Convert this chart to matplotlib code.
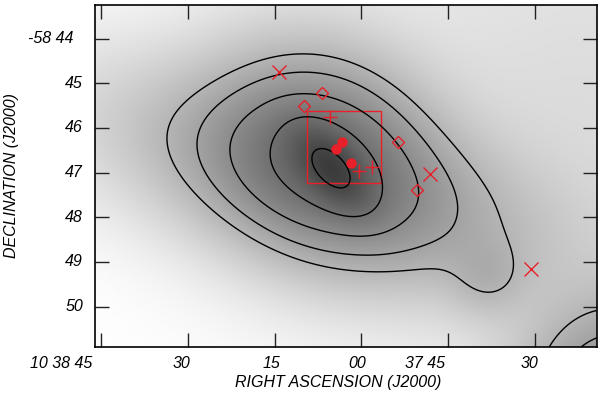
import numpy as np
import matplotlib
matplotlib.use('Agg')
import matplotlib.pyplot as plt
import matplotlib.transforms as mtransforms
from matplotlib.colors import PowerNorm
from matplotlib.patches import Rectangle

# RA in seconds past 10h37m, Dec in arcmin south of -58 deg
ra_lim = (106.04, 19.29)
dec_lim = (50.906, 43.25)

# emission components: centre, sigma major/minor (arcmin), PA (deg), amplitude
comp_ra = [64.91, 66.81, 65.43, 38.13, 15.32, 21.02]
comp_dec = [46.94, 46.50, 47.21, 49.36, 52.09, 45.89]
comp_smaj = [0.72, 1.57, 2.91, 0.56, 1.34, 3.40]
comp_smin = [0.38, 1.34, 1.12, 0.56, 1.34, 3.40]
comp_pa = [50, 35, 17, 0, 0, 0]
comp_amp = [1.3, 1.4, 1.0, 0.3, 1.37, 0.12]

# one point on each contour (left side), outer -> inner
cont_ra = [93.60, 88.41, 82.36, 75.28, 68.54]
cont_dec = [46.27, 46.34, 46.21, 46.27, 46.72]

# sources
x_ra = [74.24, 48.15, 30.70]
x_dec = [44.75, 47.03, 49.16]
dia_ra = [66.81, 69.92, 53.68, 50.39]
dia_dec = [45.22, 45.51, 46.32, 47.39]
plus_ra = [65.43, 60.42, 58.17]
plus_dec = [45.76, 46.97, 46.88]
dot_ra = [64.39, 63.35, 61.80]
dot_dec = [46.47, 46.32, 46.79]
box_ra = [69.40, 56.62]
box_dec = [45.62, 47.23]

xtick_ra = [105, 90, 75, 60, 45, 30]
xtick_lab = ['10 38 45', '30', '15', '00', '37 45', '30']
ytick_dec = [44, 45, 46, 47, 48, 49, 50]
ytick_lab = ['-58 44', '45', '46', '47', '48', '49', '50']

RED = '#e8202a'
FONT = dict(family='Liberation Sans', style='italic', size=11.5)


def field(ra, dec):
    f = np.zeros(np.shape(ra))
    for r0, d0, sa, sb, pa, a in zip(comp_ra, comp_dec, comp_smaj, comp_smin, comp_pa, comp_amp):
        dx = (r0 - ra) * 0.12955   # RA seconds -> arcmin on sky
        dy = dec - d0
        t = np.radians(pa)
        u = dx * np.cos(t) + dy * np.sin(t)
        v = -dx * np.sin(t) + dy * np.cos(t)
        f = f + a * np.exp(-0.5 * ((u / sa) ** 2 + (v / sb) ** 2))
    return f


ra = np.linspace(ra_lim[0], ra_lim[1], 600)
dec = np.linspace(dec_lim[1], dec_lim[0], 400)
RA, DEC = np.meshgrid(ra, dec)
Z = field(RA, DEC)
levels = np.sort(field(np.array(cont_ra), np.array(cont_dec)))

fig = plt.figure(figsize=(6, 3.97), dpi=100)
ax = fig.add_axes([95 / 600, 1 - 347 / 397, 502 / 600, 342 / 397])

ax.imshow(Z, extent=(ra_lim[0], ra_lim[1], dec_lim[0], dec_lim[1]), origin='upper',
          cmap='gray_r', norm=PowerNorm(0.5, vmin=0, vmax=Z.max() / 0.59),
          aspect='auto', interpolation='bilinear')
ax.contour(RA, DEC, Z, levels=levels, colors='k', linewidths=1)

ax.plot(x_ra, x_dec, 'x', color=RED, ms=10, mew=1)
ax.plot(dia_ra, dia_dec, 'D', mfc='none', mec=RED, ms=6.5, mew=1)
ax.plot(plus_ra, plus_dec, '+', color=RED, ms=10, mew=1)
ax.plot(dot_ra, dot_dec, 'o', color=RED, ms=6.5)
ax.add_patch(Rectangle((box_ra[0], box_dec[0]), box_ra[1] - box_ra[0], box_dec[1] - box_dec[0],
                       fill=False, ec=RED, lw=1))

ax.set_xlim(ra_lim)
ax.set_ylim(dec_lim)
ax.set_xticks(xtick_ra)
ax.set_yticks(ytick_dec)
ax.tick_params(direction='in', length=10, width=1, top=True, right=True,
               labelbottom=False, labelleft=False, color='#222222')
for s in ax.spines.values():
    s.set_linewidth(1.2)

# tick labels placed by hand, as in the original
xlab_dx = [-40, -6, -3, -4, -23, -6]
bt = mtransforms.blended_transform_factory(ax.transData, ax.transAxes)
for r, lab, dx in zip(xtick_ra, xtick_lab, xlab_dx):
    tr = mtransforms.offset_copy(bt, fig=fig, x=dx, y=-17, units='dots')
    ax.text(r, 0, lab, transform=tr, ha='center', va='center', **FONT)
ylab_dx = [-22, -12, -12, -12, -12, -12, -12]
lt = mtransforms.blended_transform_factory(ax.transAxes, ax.transData)
for d, lab, dx in zip(ytick_dec, ytick_lab, ylab_dx):
    tr = mtransforms.offset_copy(lt, fig=fig, x=dx, y=0, units='dots')
    ax.text(0, d, lab, transform=tr, ha='right', va='center', **FONT)

fig.text(338 / 600, 1 - 383 / 397, 'RIGHT ASCENSION (J2000)', ha='center', va='center', **FONT)
fig.text(12 / 600, 1 - 175 / 397, 'DECLINATION (J2000)', ha='center', va='center', rotation=90, **FONT)

fig.savefig('out.png', dpi=100)
